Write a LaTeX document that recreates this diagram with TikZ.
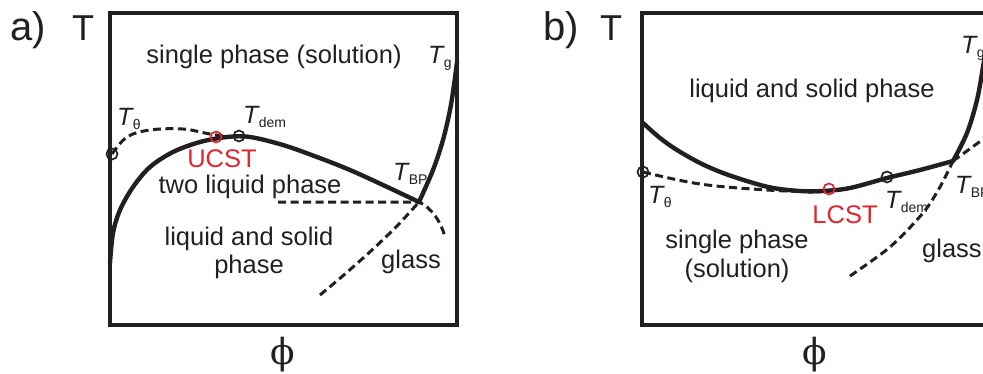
\documentclass[tikz,border=0pt]{standalone}
\usepackage{fontspec}
\setmainfont{Liberation Sans}
\newfontfamily\phifont{DejaVu Serif}
\usetikzlibrary{positioning}
\definecolor{inkblack}{HTML}{231F20}
\definecolor{critred}{HTML}{E1252F}
% italic T with a small lowered index, as on the phase labels
\newcommand{\tsub}[1]{{\itshape T}\kern0.3pt{\fontsize{14}{14}\selectfont\raisebox{-4pt}{#1}}}

\begin{document}
\begin{tikzpicture}[
  x=1pt, y=-1pt,
  frame/.style={draw=inkblack, line width=4pt},
  binodal/.style={draw=inkblack, line width=4.4pt, line cap=round, line join=round},
  guide/.style={draw=inkblack, line width=3pt, dash pattern=on 8pt off 4.5pt},
  % open circles on the curves
  marker/.style={circle, draw=inkblack, line width=1.7pt, minimum size=11pt,
                 inner sep=0},
  crit/.style={marker, draw=critred},
  region/.style={font=\fontsize{25.5}{28}\selectfont, text=inkblack,
                 anchor=base, inner sep=0},
  critlbl/.style={region, text=critred},
  tlbl/.style={font=\fontsize{25}{25}\selectfont, text=inkblack,
               anchor=base west, inner sep=0},
  tag/.style={font=\fontsize{40}{40}\selectfont, text=inkblack,
              anchor=base west, inner sep=0},
  axislbl/.style={font=\fontsize{36}{36}\selectfont, text=inkblack,
                  anchor=base west, inner sep=0},
  philbl/.style={font=\phifont\fontsize{36}{36}\selectfont, text=inkblack,
                 inner sep=0}
]
\useasboundingbox (0,0) rectangle (983,373);
\clip (0,0) rectangle (983,373);

% ══ panel a: UCST ══════════════════════════════════════════════════════════
\draw[frame] (110,13) rectangle (457,325);
\node[tag] (aTag) at (10,40) {a)};
\node[axislbl] (aAxisT) at (72,40) {T};
\node[philbl] (aAxisPhi) at (283,355) {ϕ};

\coordinate (aBP) at (419,202);
% binodal, then the glass line up to the right wall
\draw[binodal] plot[smooth, tension=0.55] coordinates {(110,263) (113,233)
  (120,210) (133,187) (150,167) (173,152) (200,142) (227,137) (250,137)
  (283,145) (317,157) (350,170) (383,185) (419,202)};
\draw[binodal] plot[smooth, tension=0.55] coordinates {(419,202) (433,170)
  (443,140) (450,110) (454,85) (457,62)};
% theta curve from the wall into the binodal
\draw[guide] plot[smooth, tension=0.6] coordinates {(112,154) (127,137)
  (150,130) (183,129) (210,134) (232,137)};
\draw[guide] (278,202) -- (aBP) .. controls (432,208) and (441,222) .. (445,237);
\draw[guide] plot[smooth, tension=0.5] coordinates {(320,295) (345,274)
  (372,250) (397,226) (419,202)};

\node[marker] (aTheta) at (112,154) {};
\node[crit] (aUCST) at (216,137) {};
\node[marker] (aDem) at (239,136) {};

\node[region] (aSingle) at (274,63) {single phase (solution)};
\node[region] (aTwo) at (250,193) {two liquid phase};
\node[region] (aLS1) at (249,245) {liquid and solid};
\node[region] (aLS2) at (249,273) {phase};
\node[region] (aGlass) at (411,268) {glass};
\node[critlbl] (aUCSTlbl) at (222,167) {UCST};
\node[tlbl] (aThetaLbl) at (117,125) {\tsub{θ}};
\node[tlbl] (aDemLbl) at (243,123) {\tsub{dem}};
\node[tlbl] (aBPLbl) at (393,180) {\tsub{BP}};
\node[tlbl] (aTgLbl) at (428,63) {\tsub{g}};

% ══ panel b: LCST ══════════════════════════════════════════════════════════
\draw[frame] (642,13) rectangle (989,325);
\node[tag] (bTag) at (543,40) {b)};
\node[axislbl] (bAxisT) at (600,40) {T};
\node[philbl] (bAxisPhi) at (815,355) {ϕ};

\coordinate (bBP) at (953,161);
\draw[binodal] plot[smooth, tension=0.55] coordinates {(643,123) (660,138)
  (677,150) (700,163) (723,173) (750,182) (773,188) (800,191) (823,191)
  (850,188) (887,178) (920,170) (953,161)};
\draw[binodal] plot[smooth, tension=0.55] coordinates {(953,161) (967,133)
  (977,100) (983,67) (988,35)};
\draw[guide] plot[smooth, tension=0.6] coordinates {(643,172) (700,184)
  (767,190) (820,192)};
\draw[guide] plot[smooth, tension=0.5] coordinates {(850,276) (890,247)
  (923,213) (940,187) (953,161)};
\draw[guide] (bBP) -- (989,135);

\node[marker] (bTheta) at (643,172) {};
\node[crit] (bLCST) at (829,189) {};
\node[marker] (bDem) at (887,177) {};

\node[region] (bLS) at (812,97) {liquid and solid phase};
\node[region] (bSingle1) at (737,248) {single phase};
\node[region] (bSingle2) at (737,277) {(solution)};
\node[region, anchor=base west] (bGlass) at (922,257) {glass};
\node[critlbl] (bLCSTlbl) at (845,223) {LCST};
\node[tlbl] (bThetaLbl) at (648,203) {\tsub{θ}};
\node[tlbl] (bDemLbl) at (885,208) {\tsub{dem}};
\node[tlbl] (bBPLbl) at (955,193) {\tsub{BP}};
\node[tlbl] (bTgLbl) at (961,53) {\tsub{g}};

\end{tikzpicture}
\end{document}
